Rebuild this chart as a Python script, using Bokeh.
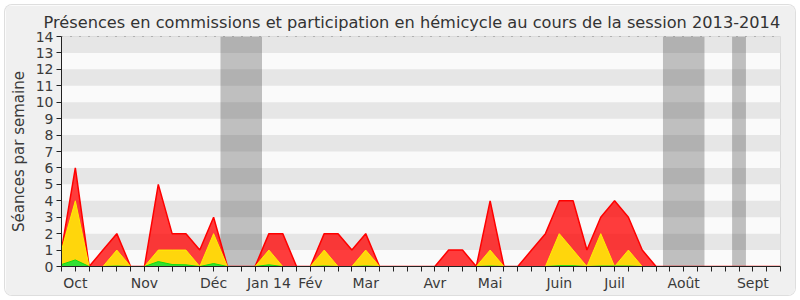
from bokeh.plotting import figure
from bokeh.models import Range1d, FixedTicker, Span, ColumnDataSource
from bokeh.embed import file_html
from bokeh.resources import INLINE

title = "Présences en commissions et participation en hémicycle au cours de la session 2013-2014"
y_label = "Séances par semaine"

weeks = list(range(53))
presences = [1, 6, 0, 1, 2, 0, 0, 5, 2, 2, 1, 3, 0, 0, 0, 2, 2, 0, 0, 2,
             2, 1, 2, 0, 0, 0, 0, 0, 1, 1, 0, 4, 0, 0, 1, 2, 4, 4, 1, 3,
             4, 3, 1, 0, 0, 0, 0, 0, 0, 0, 0, 0, 0]
participations = [1, 4, 0, 0, 1, 0, 0, 1, 1, 1, 0, 2, 0, 0, 0, 1, 0, 0, 0, 1,
                  0, 0, 1, 0, 0, 0, 0, 0, 0, 0, 0, 1, 0, 0, 0, 0, 2, 1, 0, 2,
                  0, 1, 0, 0, 0, 0, 0, 0, 0, 0, 0, 0, 0]
interventions = [0.12, 0.4, 0, 0, 0.03, 0, 0, 0.3, 0.12, 0.1, 0, 0.18, 0, 0, 0, 0.1, 0, 0, 0, 0.03,
                 0, 0, 0.03, 0, 0, 0, 0, 0, 0, 0, 0, 0.03, 0, 0, 0, 0, 0.05, 0.05, 0, 0.03,
                 0.03, 0.03, 0, 0, 0, 0, 0, 0, 0, 0, 0, 0, 0]

vac_start = [11.5, 43.5, 48.5]
vac_end = [14.5, 46.5, 49.5]

month_weeks = [1, 6, 11, 15, 18, 22, 27, 31, 36, 40, 45, 50]
month_labels = ["Oct", "Nov", "Déc", "Jan 14", "Fév", "Mar", "Avr", "Mai", "Juin", "Juil", "Août", "Sept"]

x_max = 52
y_max = 14

FONT = "DejaVu Sans"

p = figure(width=790, height=290, output_backend="svg", toolbar_location=None,
           x_range=Range1d(0, x_max), y_range=Range1d(0, y_max),
           min_border_left=56, min_border_right=15, min_border_top=30, min_border_bottom=29)
p.margin = (5, 5, 5, 5)
p.styles = {"border-radius": "7px", "box-shadow": "0 0 0 1px #dedede", "overflow": "hidden"}
p.border_fill_color = "#f0f0f0"
p.background_fill_color = "#fafafa"
p.outline_line_color = "#d8d8d8"

p.title.text = title
p.title.text_font = FONT
p.title.text_font_size = "16.2px"
p.title.text_font_style = "normal"
p.title.text_color = "#333333"
p.title.align = "left"
p.title.offset = -18

# alternating stripes
stripe_bottom = [k for k in range(y_max) if k % 2 == 1]
stripe_top = [k + 1 for k in stripe_bottom]
p.quad(left=0, right=x_max, bottom=stripe_bottom, top=stripe_top,
       fill_color="#e6e6e6", line_color=None)

# vacations
p.quad(left=vac_start, right=vac_end, bottom=0, top=y_max,
       fill_color="#282828", fill_alpha=0.28, line_color=None)

src = ColumnDataSource(dict(x=weeks, r=presences, yl=participations, g=interventions))
p.varea(x="x", y1=0, y2="r", source=src, fill_color="#ff0000", fill_alpha=0.76)
p.line(x="x", y="r", source=src, line_color="#ff0000", line_width=1.5)
p.varea(x="x", y1=0, y2="yl", source=src, fill_color="#ffd60c", fill_alpha=1.0)
p.line(x="x", y="yl", source=src, line_color="#ffee00", line_width=1)
p.varea(x="x", y1=0, y2="g", source=src, fill_color="#33e033", fill_alpha=1.0)
p.line(x="x", y="g", source=src, line_color="#11dd11", line_width=1)

p.add_layout(Span(location=y_max, dimension="width", line_color="#333333",
                  line_dash="1 8", line_width=1))

p.xgrid.visible = False
p.ygrid.visible = False

p.xaxis.ticker = FixedTicker(ticks=weeks)
overrides = {w: "" for w in weeks}
for w, lab in zip(month_weeks, month_labels):
    overrides[w] = lab
p.xaxis.major_label_overrides = overrides
p.yaxis.ticker = FixedTicker(ticks=list(range(y_max + 1)))
p.yaxis.axis_label = y_label

for ax in (p.xaxis[0], p.yaxis[0]):
    ax.major_tick_in = 0
    ax.major_tick_out = 5
    ax.minor_tick_line_color = None
    ax.axis_line_color = "#222222"
    ax.major_tick_line_color = "#222222"
    ax.major_label_text_font = FONT
    ax.major_label_text_font_size = "14px"
    ax.major_label_text_color = "#3a3a3a"
    ax.major_label_standoff = 3
    ax.axis_label_text_font = FONT
    ax.axis_label_text_font_size = "15px"
    ax.axis_label_text_font_style = "normal"
    ax.axis_label_text_color = "#3a3a3a"
    ax.axis_label_standoff = 5

open("out.html", "w").write(file_html(p, INLINE))
